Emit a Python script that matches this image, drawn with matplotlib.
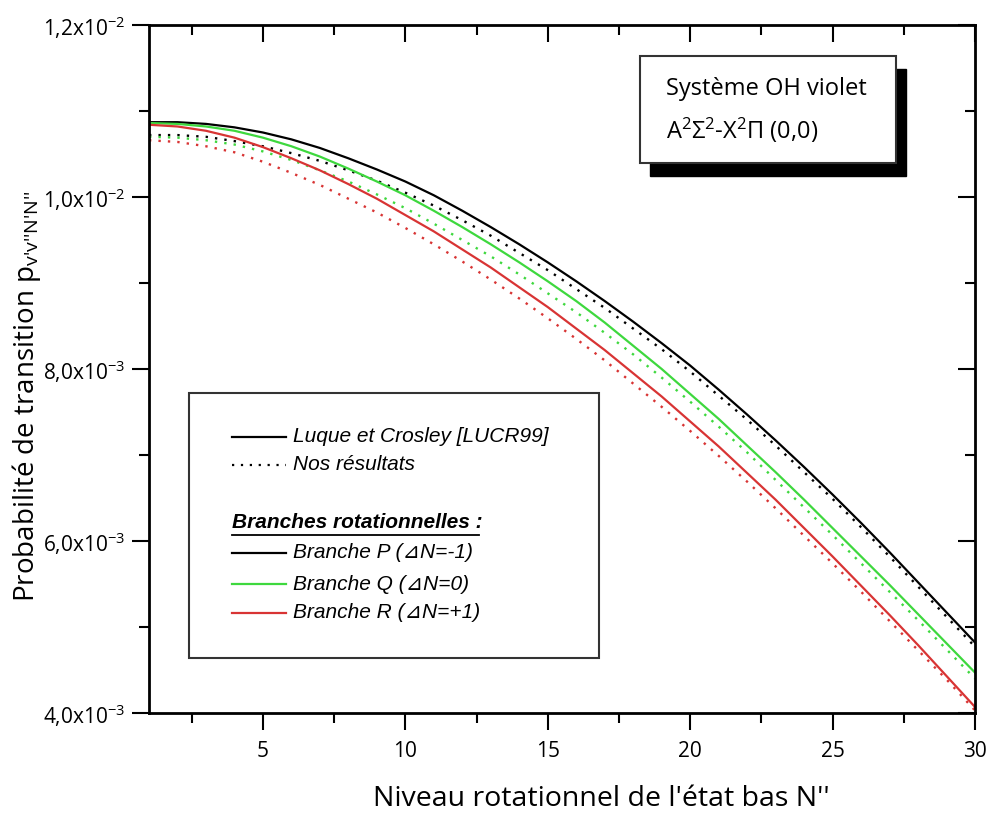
import numpy as np
import matplotlib
matplotlib.use("Agg")
from matplotlib import pyplot as plt
from matplotlib.ticker import MultipleLocator, FuncFormatter
from matplotlib.patches import Rectangle

# niveau rotationnel N''
n_levels = list(range(1, 31))

# probabilités de transition (x1e-3), Luque et Crosley [LUCR99]
p_luque = [10.87, 10.87, 10.85, 10.81, 10.75, 10.67, 10.57, 10.45, 10.32, 10.18,
           10.02, 9.84, 9.65, 9.45, 9.24, 9.02, 8.79, 8.55, 8.30, 8.04,
           7.76, 7.47, 7.17, 6.86, 6.54, 6.21, 5.87, 5.52, 5.17, 4.82]
q_luque = [10.86, 10.85, 10.82, 10.77, 10.69, 10.59, 10.47, 10.33, 10.18, 10.02,
           9.84, 9.65, 9.45, 9.24, 9.02, 8.79, 8.54, 8.27, 8.00, 7.71,
           7.42, 7.11, 6.80, 6.48, 6.15, 5.82, 5.49, 5.15, 4.81, 4.47]
r_luque = [10.84, 10.82, 10.77, 10.69, 10.58, 10.45, 10.31, 10.15, 9.98, 9.79,
           9.60, 9.39, 9.18, 8.95, 8.72, 8.47, 8.22, 7.95, 7.68, 7.39,
           7.10, 6.79, 6.48, 6.15, 5.82, 5.48, 5.14, 4.79, 4.43, 4.07]

# nos résultats (x1e-3)
p_nous = [10.72, 10.72, 10.70, 10.65, 10.59, 10.51, 10.42, 10.31, 10.19, 10.05,
          9.90, 9.73, 9.55, 9.35, 9.15, 8.93, 8.71, 8.47, 8.23, 7.97,
          7.69, 7.41, 7.11, 6.80, 6.49, 6.16, 5.82, 5.47, 5.12, 4.77]
q_nous = [10.70, 10.69, 10.66, 10.61, 10.53, 10.43, 10.31, 10.18, 10.03, 9.87,
          9.69, 9.50, 9.31, 9.10, 8.88, 8.66, 8.42, 8.17, 7.90, 7.62,
          7.33, 7.03, 6.71, 6.39, 6.07, 5.74, 5.41, 5.08, 4.74, 4.40]
r_nous = [10.66, 10.64, 10.59, 10.52, 10.41, 10.28, 10.14, 9.98, 9.82, 9.64,
          9.45, 9.25, 9.04, 8.82, 8.59, 8.35, 8.10, 7.83, 7.56, 7.28,
          6.99, 6.69, 6.38, 6.06, 5.74, 5.41, 5.07, 4.73, 4.39, 4.03]

branches = ["Branche P (⊿N=-1)", "Branche Q (⊿N=0)", "Branche R (⊿N=+1)"]
couleurs = ["black", "#3ed83e", "#d83434"]

plt.rcParams["font.family"] = ["Open Sans", "DejaVu Sans"]
plt.rcParams["mathtext.fontset"] = "custom"
plt.rcParams["mathtext.rm"] = "Open Sans"
plt.rcParams["mathtext.it"] = "Open Sans:italic"

fig = plt.figure(figsize=(9.88, 8.16), dpi=100)
ax = fig.add_axes([149 / 988, 1 - 713 / 816, 826 / 988, 688 / 816])

dots = (0, (1, 3))
for lucr, nous, c in zip([p_luque, q_luque, r_luque], [p_nous, q_nous, r_nous], couleurs):
    ax.plot(n_levels, np.array(lucr) * 1e-3, color=c, lw=1.6)
    ax.plot(n_levels, np.array(nous) * 1e-3, color=c, lw=1.7, linestyle=dots)

ax.set_xlim(1, 30)
ax.set_ylim(4e-3, 1.2e-2)
ax.xaxis.set_major_locator(MultipleLocator(5))
ax.xaxis.set_minor_locator(MultipleLocator(2.5))
ax.yaxis.set_major_locator(MultipleLocator(2e-3))
ax.yaxis.set_minor_locator(MultipleLocator(1e-3))


def sci_virgule(v, pos):
    e = int(np.floor(np.log10(v) + 1e-9))
    m = v / 10 ** e
    return ("%.1f" % m).replace(".", ",") + "x10$^{%d}$" % e


ax.yaxis.set_major_formatter(FuncFormatter(sci_virgule))
ax.tick_params(which="both", direction="out", width=1.5, labelsize=15)
ax.tick_params(which="major", length=12)
ax.tick_params(which="minor", length=7)
ax.tick_params(axis="x", pad=8)
ax.tick_params(axis="y", pad=5)
for s in ax.spines.values():
    s.set_linewidth(2)

# graduations intérieures en haut et à droite
top = ax.secondary_xaxis("top")
top.xaxis.set_major_locator(MultipleLocator(5))
top.xaxis.set_minor_locator(MultipleLocator(2.5))
top.tick_params(which="both", direction="in", width=1.5, labeltop=False)
top.tick_params(which="major", length=12)
top.tick_params(which="minor", length=7)
right = ax.secondary_yaxis("right")
right.yaxis.set_major_locator(MultipleLocator(2e-3))
right.yaxis.set_minor_locator(MultipleLocator(1e-3))
right.tick_params(which="both", direction="in", width=1.5, labelright=False)
right.tick_params(which="major", length=12)
right.tick_params(which="minor", length=7)

ax.set_xlabel("Niveau rotationnel de l'état bas N''", fontsize=20.5)
ax.set_ylabel("Probabilité de transition p$_{\\text{v'v''N'N''}}$", fontsize=20)
ax.xaxis.set_label_coords(0.547, -0.105)
ax.yaxis.set_label_coords(-0.128, 0.46)


def ac(px, py):
    return (px - 149) / 826, (713 - py) / 688


# encadré du système
x0, y0 = ac(640, 163)
x1, y1 = ac(896, 56)
sx, sy = ac(650, 176)
ax.add_patch(Rectangle((sx, sy), x1 - x0, y1 - y0, transform=ax.transAxes,
                       facecolor="black", edgecolor="black", zorder=4))
ax.add_patch(Rectangle((x0, y0), x1 - x0, y1 - y0, transform=ax.transAxes,
                       facecolor="white", edgecolor="#333333", lw=1.5, zorder=5))
tx, ty = ac(666, 89)
ax.text(tx, ty, "Système OH violet", transform=ax.transAxes, fontsize=17,
        va="center", ha="left", zorder=6)
tx, ty = ac(666, 130)
ax.text(tx, ty, "A$^2\\Sigma^2$-X$^2\\Pi$ (0,0)", transform=ax.transAxes, fontsize=17,
        va="center", ha="left", zorder=6)

# légende
lx0, ly0 = ac(189, 658)
lx1, ly1 = ac(599, 393)
ax.add_patch(Rectangle((lx0, ly0), lx1 - lx0, ly1 - ly0, transform=ax.transAxes,
                       facecolor="white", edgecolor="#333333", lw=1.5, zorder=5))
leg_font = ["Liberation Sans", "DejaVu Sans"]
a, _ = ac(232, 0)
b, _ = ac(286, 0)
t, _ = ac(293, 0)


def ligne_legende(py, texte, color, ls):
    _, yy = ac(0, py)
    ax.plot([a, b], [yy, yy], transform=ax.transAxes, color=color, lw=1.6,
            linestyle=ls, zorder=6)
    ax.text(t, yy, texte, transform=ax.transAxes, fontsize=15, style="italic",
            family=leg_font, va="center", ha="left", zorder=6)


ligne_legende(437, "Luque et Crosley [LUCR99]", "black", "-")
ligne_legende(465, "Nos résultats", "black", dots)
_, yy = ac(0, 522)
ax.text(a, yy, "Branches rotationnelles :", transform=ax.transAxes, fontsize=15,
        style="italic", weight="bold", family=leg_font, va="center", ha="left", zorder=6)
_, yu = ac(0, 535)
u1, _ = ac(479, 0)
ax.plot([a, u1], [yu, yu], transform=ax.transAxes, color="black", lw=1.3, zorder=6)
for py, nom, c in zip([553, 584, 613], branches, couleurs):
    ligne_legende(py, nom, c, "-")

fig.savefig("out.png", dpi=100)
